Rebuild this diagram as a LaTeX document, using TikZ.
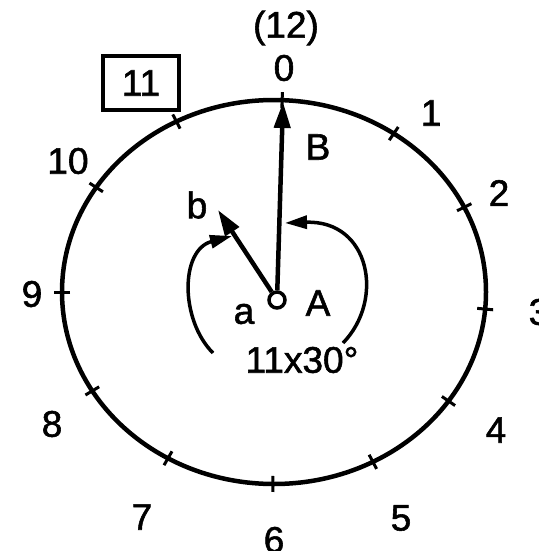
\documentclass[tikz,border=0pt]{standalone}
\usepackage{fontspec}
\setmainfont[FakeBold=1.5]{Liberation Sans}
\usetikzlibrary{arrows.meta}
\begin{document}
\begin{tikzpicture}[x=1pt,y=-1pt,
  lbl/.style={font=\fontsize{37}{40}\selectfont, inner sep=0pt},
  dial/.style={line width=4.5pt},
  hand/.style={line width=4.5pt, -{Triangle[length=26pt,width=16pt]}},
  sweep/.style={line width=3.5pt, -{Triangle[length=22pt,width=13pt]}},
  tickmark/.style={line width=3pt},
  boxed/.style={draw, line width=3.5pt, minimum width=76pt, minimum height=54pt}]
\useasboundingbox (0,0) rectangle (538,551);
\fill[white] (0,0) rectangle (538,551);
\coordinate (C) at (274,292);
\draw[dial] (C) ellipse [x radius=212pt, y radius=192pt];
\foreach \t in {87.8,55.6,26.2,-5.1,-34.6,-62.2,-90.3,-120,-149,180,147,117.4}
  \draw[tickmark] ({274+204*cos(\t)},{292-184*sin(\t)}) -- ({274+220*cos(\t)},{292-200*sin(\t)});
% hands
\coordinate (O) at (277,300);
\coordinate (Btip) at (283,102);
\coordinate (btip) at (218,210);
\node[circle, draw, line width=3.5pt, fill=white, minimum size=16pt, inner sep=0pt] (hub) at (O) {};
\draw[hand] (hub) -- (Btip);
\draw[hand] (hub) -- (btip);
% sweep arcs
\coordinate (La) at (213,353);
\coordinate (Lb) at (232,236);
\draw[sweep] (La) .. controls (180,320) and (180,250) .. (Lb);
\coordinate (Ra) at (343,343);
\coordinate (Rb) at (285,223);
\draw[sweep] (Ra) .. controls (385,300) and (370,220) .. (Rb);
% labels
\node[lbl] (l12) at (286,28) {(12)};
\node[lbl] (l0) at (284,68) {0};
\node[lbl] (l1) at (431,113) {1};
\node[lbl] (l2) at (499,193) {2};
\node[lbl] (l3) at (539,312) {3};
\node[lbl] (l4) at (496,430) {4};
\node[lbl] (l5) at (401,518) {5};
\node[lbl] (l6) at (274,540) {6};
\node[lbl] (l7) at (142,517) {7};
\node[lbl] (l8) at (52,424) {8};
\node[lbl] (l9) at (32,294) {9};
\node[lbl] (l10) at (68,161) {10};
\node[lbl, boxed] (l11) at (141,83) {11};
\node[lbl] (lB) at (318,147) {B};
\node[lbl] (lb) at (197,205) {b};
\node[lbl] (la) at (244,314) {a};
\node[lbl] (lA) at (318,303) {A};
\node[lbl] (lang) at (302,360) {11x30°};
\end{tikzpicture}
\end{document}
